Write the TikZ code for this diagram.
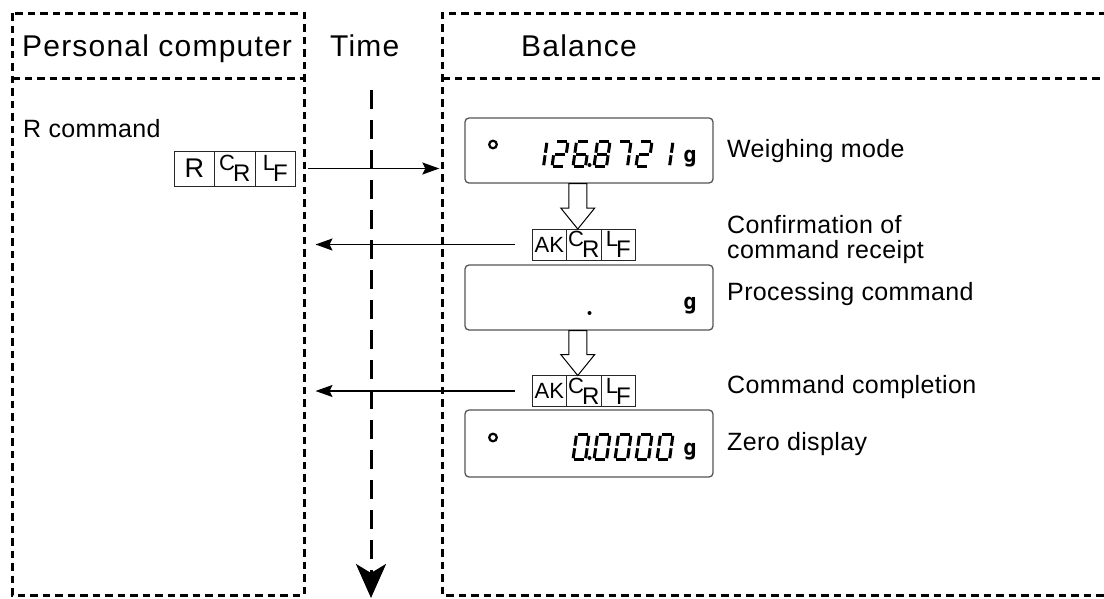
\documentclass[tikz,border=0pt]{standalone}
\usepackage{fontspec}
\setmainfont{Liberation Sans}
\setmonofont{DejaVu Sans Mono}
\newfontfamily\hdrfont[LetterSpace=4]{Liberation Sans}
\newfontfamily\lblfont[LetterSpace=1.5]{Liberation Sans}
\usetikzlibrary{arrows.meta,calc,positioning}
\definecolor{PanelClr}{RGB}{85,85,85}
\definecolor{CellClr}{RGB}{40,40,40}

\newcommand\lcdzero{TL/TR,TR/MR,MR/BR,BL/BR,ML/BL,TL/ML}
\newcommand\lcdone{TR/MR,MR/BR}
\newcommand\lcdtwo{TL/TR,TR/MR,ML/MR,ML/BL,BL/BR}
\newcommand\lcdsix{TL/TR,TL/ML,ML/MR,ML/BL,BL/BR,MR/BR}
\newcommand\lcdseven{TL/TR,TR/MR,MR/BR}
\newcommand\lcdeight{TL/TR,TR/MR,MR/BR,BL/BR,ML/BL,TL/ML,ML/MR}

\newcommand\lcddigit[3]{%
  \begin{scope}[shift={(#1,#2)},xslant=0.14]
    \coordinate (TL) at (0,-25);
    \coordinate (TR) at (12.5,-25);
    \coordinate (ML) at (0,-12.5);
    \coordinate (MR) at (12.5,-12.5);
    \coordinate (BL) at (0,0);
    \coordinate (BR) at (12.5,0);
    \edef\lcdlist{\csname lcd#3\endcsname}
    \foreach \u/\v in \lcdlist {\draw[lcd] (\u) -- (\v);}
  \end{scope}}

\newcommand\ctlpair[2]{\raisebox{5pt}{\fontsize{22}{22}\selectfont #1}\kern-2pt\raisebox{-6pt}{\fontsize{24}{24}\selectfont #2}}

\newcommand\hollowdown[2]{%
  \draw[hollow] let \p1=(#1), \p2=(#2) in
    (\x2-9pt,\y1) -- (\x2+9pt,\y1) -- (\x2+9pt,\y2+21pt) -- (\x2+17pt,\y2+21pt)
    -- (\x2,\y2) -- (\x2-17pt,\y2+21pt) -- (\x2-9pt,\y2+21pt) -- cycle;}

\begin{document}
\begin{tikzpicture}[x=1pt,y=-1pt,
  frame/.style={line width=3pt,dash pattern=on 7.5pt off 5pt},
  timeline/.style={line width=3pt,dash pattern=on 19pt off 11pt,-{Stealth[length=34pt,width=30pt,inset=9pt]}},
  msg/.style={line width=1.6pt,-{Stealth[length=17pt,width=12pt,inset=3pt]}},
  hdr/.style={font=\hdrfont\fontsize{30}{36}\selectfont,anchor=base west,inner sep=0},
  lbl/.style={font=\lblfont\fontsize{25}{30}\selectfont,anchor=base west,inner sep=0},
  panel/.style={draw=PanelClr,line width=1.3pt,rounded corners=4pt,minimum width=248pt,inner sep=0},
  cell/.style={draw=CellClr,line width=0.9pt,inner sep=0,outer sep=0,minimum width=40.5pt,minimum height=35pt,font=\fontsize{27}{27}\selectfont},
  akcell/.style={cell,minimum width=34.5pt,minimum height=31pt,font=\fontsize{22}{22}\selectfont},
  lcd/.style={line width=3pt,shorten >=1.3pt,shorten <=1.3pt},
  lamp/.style={line width=2.2pt},
  unit/.style={font=\ttfamily\bfseries\fontsize{22}{22}\selectfont,anchor=base,inner sep=0},
  hollow/.style={draw,fill=white,line width=1pt}]
\useasboundingbox (0,0) rectangle (1104,598);

\draw[frame] (12,13) rectangle (304,595);
\draw[frame] (12,78) -- (304,78);
\draw[frame] (1106,13) -- (442,13) -- (442,595) -- (1106,595);
\draw[frame] (442,78) -- (1106,78);

\node[hdr] (pc) at (22,56) {Personal computer};
\node[hdr] (time) at (330,56) {Time};
\node[hdr] (bal) at (521,56) {Balance};

\coordinate (tstart) at (371,90);
\coordinate (tend) at (371,598);
\draw[timeline] (tstart) -- (tend);

\node[lbl] (rcmd) at (23,137) {R command};
\node[cell] (rR) at (194.25,168.5) {R};
\node[cell,right=0pt of rR] (rC) {\ctlpair{C}{R}};
\node[cell,right=0pt of rC] (rL) {\ctlpair{L}{F}};

\node[panel,minimum height=65pt] (wdisp) at (589,150.5) {};
\node[panel,minimum height=65pt] (pdisp) at (589,297.5) {};
\node[panel,minimum height=67pt] (zdisp) at (589,443.5) {};

\node[akcell] (ak1a) at (549.25,244.5) {AK};
\node[akcell,right=0pt of ak1a] (ak1c) {\ctlpair{C}{R}};
\node[akcell,right=0pt of ak1c] (ak1l) {\ctlpair{L}{F}};
\node[akcell] (ak2a) at (549.25,391) {AK};
\node[akcell,right=0pt of ak2a] (ak2c) {\ctlpair{C}{R}};
\node[akcell,right=0pt of ak2c] (ak2l) {\ctlpair{L}{F}};

\draw[msg,shorten <=12pt,shorten >=25pt] (rL.east) -- (rL.east -| wdisp.west);
\draw[msg,shorten <=17pt,shorten >=20pt] (ak1a.west) -- (ak1a.west -| rL.east);
\draw[msg,shorten <=17pt,shorten >=20pt] (ak2a.west) -- (ak2a.west -| rL.east);

\hollowdown{wdisp.south}{$(ak1c.north)+(-6,0)$}
\hollowdown{pdisp.south}{$(ak2c.north)+(-6,0)$}

\draw[lamp] (493,144.5) circle (3.8);
\foreach \d/\x in {one/531,two/552,six/573,eight/594,seven/615,two/636,one/657}
  {\lcddigit{\x}{166.5}{\d}}
\fill (589.5,165) circle (2);
\node[unit] (wg) at (690,162) {g};

\fill (589.5,313) circle (2);
\node[unit] (pg) at (690,309) {g};

\draw[lamp] (493,437.5) circle (3.8);
\foreach \x in {573,594,615,636,657}
  {\lcddigit{\x}{459.5}{zero}}
\fill (589.5,458) circle (2);
\node[unit] (zg) at (690,455) {g};

\node[lbl] (wmode) at (727,157) {Weighing mode};
\node[lbl] (conf) at (727,233) {Confirmation of};
\node[lbl] (rcpt) at (727,258) {command receipt};
\node[lbl] (proc) at (727,300) {Processing command};
\node[lbl] (done) at (727,393) {Command completion};
\node[lbl] (zero) at (727,450) {Zero display};
\end{tikzpicture}
\end{document}
